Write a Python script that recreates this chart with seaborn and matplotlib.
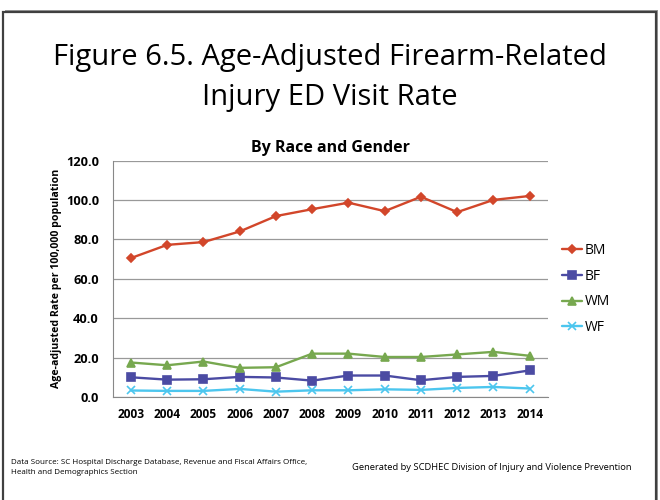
import matplotlib
matplotlib.use('Agg')
import matplotlib.pyplot as plt
from matplotlib.patches import Rectangle
import pandas as pd
import seaborn as sns

years = [2003, 2004, 2005, 2006, 2007, 2008, 2009, 2010, 2011, 2012, 2013, 2014]
bm = [70.5, 77.2, 78.6, 84.0, 91.8, 95.3, 98.6, 94.3, 101.6, 93.8, 100.0, 102.0]
bf = [10.0, 8.8, 9.0, 10.2, 9.9, 8.3, 10.9, 10.9, 8.5, 10.2, 10.7, 13.5]
wm = [17.5, 16.1, 18.0, 14.8, 15.1, 22.0, 22.0, 20.3, 20.3, 21.6, 22.9, 20.9]
wf = [3.3, 3.1, 3.1, 4.1, 2.7, 3.4, 3.4, 3.9, 3.6, 4.6, 5.1, 4.3]

groups = ['BM', 'BF', 'WM', 'WF']
colores = ['#D2462A', '#4B4BA3', '#77A84F', '#4CC6EE']
marcadores = ['D', 's', '^', 'x']
tamanos = [4.2, 6.3, 6.3, 6]

df = pd.DataFrame({'BM': bm, 'BF': bf, 'WM': wm, 'WF': wf})
df['pos'] = range(len(years))

sns.set_style('white')
plt.rcParams['font.family'] = ['Open Sans', 'DejaVu Sans']
plt.rcParams['text.color'] = 'black'
plt.rcParams['xtick.color'] = 'black'
plt.rcParams['ytick.color'] = 'black'
plt.rcParams['axes.labelcolor'] = 'black'

fig = plt.figure(figsize=(6.6, 5), dpi=100)
# marco de diapositiva con sombra
fig.patches.append(Rectangle((0.0075, -0.01), 0.99, 0.99, transform=fig.transFigure,
                             facecolor='#999999', edgecolor='none', zorder=-3))
fig.patches.append(Rectangle((0.005, -0.02), 0.989, 0.996, transform=fig.transFigure,
                             facecolor='white', edgecolor='#404040', linewidth=1.6, zorder=-2))

ax = fig.add_axes([0.171, 0.206, 0.659, 0.473])
ax.set_facecolor('none')
for g, c, m, ms in zip(groups, colores, marcadores, tamanos):
    sns.lineplot(data=df, x='pos', y=g, color=c, marker=m, markersize=ms,
                 markeredgecolor=c, markeredgewidth=1.2, linewidth=1.7, label=g, ax=ax)

ax.set_xlim(-0.5, len(years) - 0.5)
ax.set_ylim(0, 120)
ax.set_yticks(range(0, 121, 20))
ax.set_yticklabels([f'{v:.1f}' for v in range(0, 121, 20)], fontsize=9.2, fontweight='bold')
ax.set_xticks(range(len(years)))
ax.set_xticklabels([str(y) for y in years], fontsize=8.6, fontweight='bold')
ax.set_xticks([i - 0.5 for i in range(len(years) + 1)], minor=True)
ax.tick_params(axis='x', which='major', length=0, pad=8)
ax.tick_params(axis='x', which='minor', length=4, color='#888888', direction='out')
ax.tick_params(axis='y', length=4, color='#888888', direction='out', pad=6)
ax.grid(axis='y', color='#999999', linewidth=0.9)
for s in ['top', 'right']:
    ax.spines[s].set_visible(False)
ax.spines['left'].set_color('#888888')
ax.spines['bottom'].set_color('#888888')
ax.set_xlabel('')
ax.set_ylabel('Age-adjusted Rate per 100,000 population', fontsize=7.6, fontweight='bold', labelpad=3)
ax.set_title('By Race and Gender', fontsize=11.5, fontweight='bold', pad=6)

leg = ax.legend(loc='upper left', bbox_to_anchor=(1.005, 0.705), frameon=False,
                fontsize=10, handlelength=1.4, labelspacing=0.78, handletextpad=0.2)

fig.text(0.5, 0.884, 'Figure 6.5. Age-Adjusted Firearm-Related', ha='center', va='center', fontsize=21)
fig.text(0.5, 0.804, 'Injury ED Visit Rate', ha='center', va='center', fontsize=21)
fig.text(0.017, 0.065, 'Data Source: SC Hospital Discharge Database, Revenue and Fiscal Affairs Office,\nHealth and Demographics Section',
         ha='left', va='center', fontsize=5.8, linespacing=1.75)
fig.text(0.533, 0.066, 'Generated by SCDHEC Division of Injury and Violence Prevention',
         ha='left', va='center', fontsize=6.75)

plt.savefig('out.png', dpi=100)
